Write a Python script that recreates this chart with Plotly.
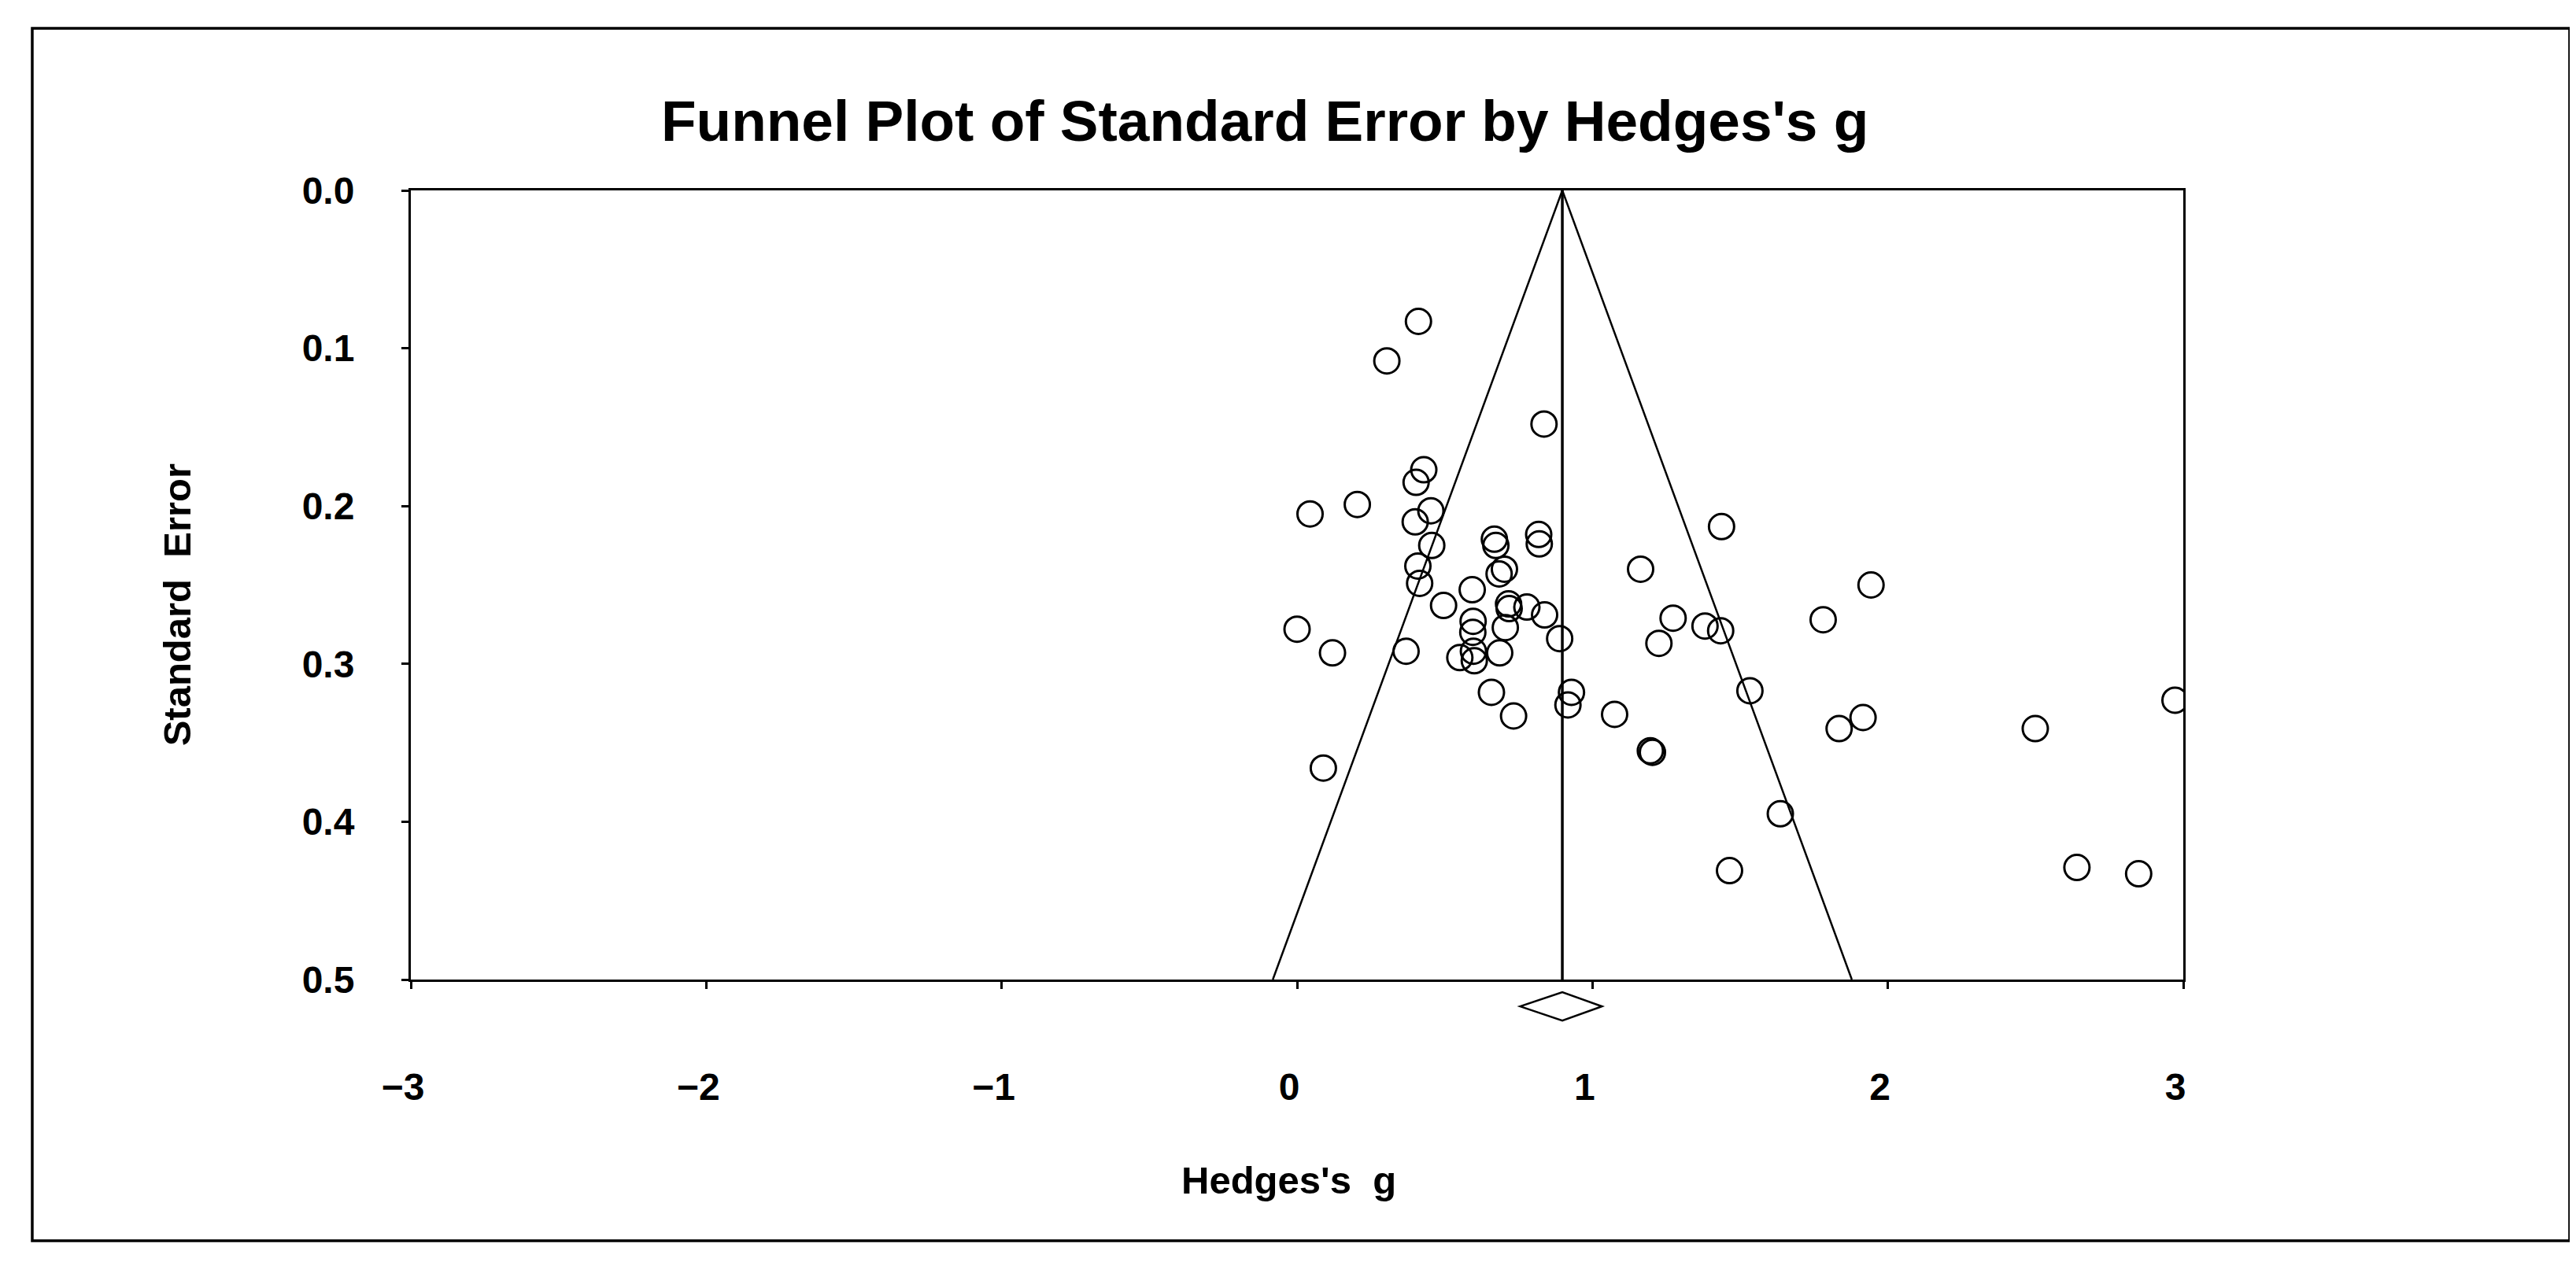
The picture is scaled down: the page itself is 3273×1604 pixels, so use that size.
import plotly.graph_objects as go

# ---- data ----
hedges_g = [0.411, 0.304, 0.836, 0.429, 0.403, 0.044, 0.204, 0.453, 0.400, 1.437,
            0.456, 0.668, 0.673, 0.818, 0.820, 0.702, 0.684, 0.409, 0.415, 0.593,
            1.163, 0.496, 0.716, 0.718, 0.778, 0.838, 0.596, 0.705, 0.595, 0.889,
            0.000, 0.120, 0.369, 0.597, 0.551, 0.600, 0.686, 1.273, 1.225, 1.381,
            1.434, 1.781, 1.943, 0.658, 0.929, 0.917, 0.733, 1.075, 1.533, 1.835,
            1.916, 2.499, 2.972, 0.089, 1.196, 1.203, 1.636, 1.464, 2.640, 2.849]
std_err = [0.083, 0.108, 0.148, 0.177, 0.185, 0.205, 0.199, 0.203, 0.210, 0.213,
           0.225, 0.221, 0.225, 0.218, 0.224, 0.240, 0.243, 0.238, 0.249, 0.253,
           0.240, 0.263, 0.262, 0.265, 0.264, 0.269, 0.273, 0.277, 0.280, 0.284,
           0.278, 0.293, 0.292, 0.292, 0.296, 0.298, 0.293, 0.271, 0.287, 0.276,
           0.279, 0.272, 0.250, 0.318, 0.318, 0.326, 0.333, 0.332, 0.317, 0.341,
           0.334, 0.341, 0.323, 0.366, 0.355, 0.356, 0.395, 0.431, 0.429, 0.433]
summary_g = 0.898
ci_low = 0.755
ci_high = 1.032
se_max = 0.5
z_crit = 1.96
x_ticks = [-3, -2, -1, 0, 1, 2, 3]
y_ticks = [0.0, 0.1, 0.2, 0.3, 0.4, 0.5]

FONT = "Arial, 'Liberation Sans', sans-serif"

fig = go.Figure()

# funnel (pseudo 95% limits)
fig.add_trace(go.Scatter(
    x=[summary_g - z_crit * se_max, summary_g, summary_g + z_crit * se_max],
    y=[se_max, 0, se_max], mode="lines",
    line=dict(color="black", width=2.5), hoverinfo="skip", showlegend=False))
# summary vertical line
fig.add_trace(go.Scatter(
    x=[summary_g, summary_g], y=[0, se_max], mode="lines",
    line=dict(color="black", width=3.5), hoverinfo="skip", showlegend=False))
# studies
fig.add_trace(go.Scatter(
    x=hedges_g, y=std_err, mode="markers",
    marker=dict(symbol="circle", size=32, color="rgba(0,0,0,0)",
                line=dict(color="black", width=3)),
    showlegend=False))

# summary diamond below axis (x from data, y in paper units)
yc, yt, yb = -0.034, -0.016, -0.052
fig.add_shape(type="path", xref="x", yref="paper",
              path=f"M {ci_low},{yc} L {summary_g},{yt} L {ci_high},{yc} L {summary_g},{yb} Z",
              line=dict(color="black", width=2.5), fillcolor="white")

# outer frame
fig.add_shape(type="rect", xref="paper", yref="paper",
              x0=-0.2136, x1=1.218, y0=-0.331, y1=1.2054,
              line=dict(color="black", width=3.5), layer="below")

fig.add_annotation(text="<b>Funnel Plot of Standard Error by Hedges's g</b>",
                   xref="paper", yref="paper", x=0.482, y=1.088,
                   xanchor="center", yanchor="middle", showarrow=False,
                   font=dict(family=FONT, size=73, color="black"))
fig.add_annotation(text="<b>Standard\u00a0 Error</b>", textangle=-90,
                   xref="paper", yref="paper", x=-0.132, y=0.475,
                   xanchor="center", yanchor="middle", showarrow=False,
                   font=dict(family=FONT, size=49, color="black"))
fig.add_annotation(text="<b>Hedges's\u00a0 g</b>",
                   xref="paper", yref="paper", x=0.4953, y=-0.254,
                   xanchor="center", yanchor="middle", showarrow=False,
                   font=dict(family=FONT, size=49, color="black"))

fig.update_xaxes(range=[-3, 3], tickvals=x_ticks, showgrid=False, zeroline=False,
                 showline=True, mirror=True, linecolor="black", linewidth=3,
                 ticks="outside", ticklen=9, tickwidth=2.5, tickcolor="black",
                 ticklabelstandoff=83, ticklabelshift=-10,
                 tickfont=dict(family=FONT, size=48, color="black", weight="bold"))
fig.update_yaxes(range=[se_max, 0], tickvals=y_ticks, tickformat=".1f",
                 showgrid=False, zeroline=False,
                 showline=True, mirror=True, linecolor="black", linewidth=3,
                 ticks="outside", ticklen=9, tickwidth=2.5, tickcolor="black",
                 ticklabelstandoff=50,
                 tickfont=dict(family=FONT, size=48, color="black", weight="bold"))

fig.update_layout(width=3273, height=1604, autosize=False,
                  margin=dict(l=514, r=507, t=234, b=367, pad=0),
                  plot_bgcolor="white", paper_bgcolor="white",
                  showlegend=False)

fig.write_html("out.html")
